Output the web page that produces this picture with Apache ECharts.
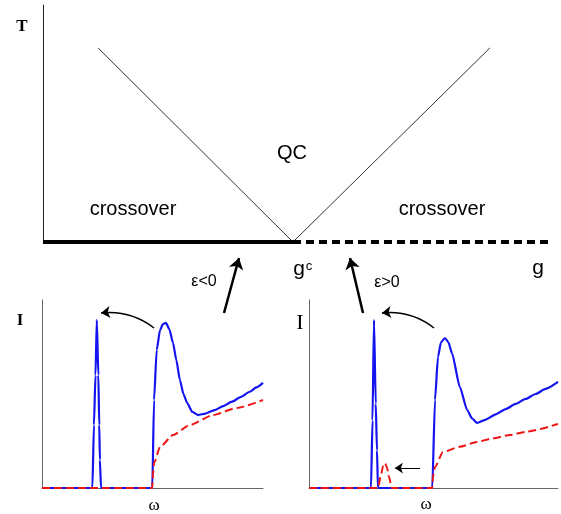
<!DOCTYPE html>
<html>
<head>
<meta charset="utf-8">
<script src="https://cdn.jsdelivr.net/npm/echarts@6/dist/echarts.min.js"></script>
<style>
html,body{margin:0;padding:0;background:#fff;}
#main{width:561px;height:514px;}
</style>
</head>
<body>
<div id="main"></div>
<script>
// 上图: T-g 相图
var gc = 0.495;
var leftBoundary = [[0.109, 0.819], [gc, 0]];
var rightBoundary = [[gc, 0], [0.885, 0.819]];
var orderedLine = [[0, 0], [gc, 0]];     // 实线 (g<gc)
var disorderedLine = [[gc, 0], [1, 0]];  // 虚线 (g>gc)

// 下左图: ε<0 的谱 I(ω)
var blueLeft = [[0, 0], [2.28, 0], [2.35, 0.335], [2.42, 0.6], [2.48, 0.894], [2.55, 0.6], [2.59, 0.335], [2.62, 0.149], [2.67, 0],
  [4.99, 0], [5.07, 0.468], [5.19, 0.734], [5.34, 0.84], [5.47, 0.872], [5.61, 0.878], [5.76, 0.845], [5.93, 0.771], [6.08, 0.68],
  [6.24, 0.574], [6.4, 0.5], [6.57, 0.452], [6.8, 0.405], [7.06, 0.388], [7.4, 0.396], [7.8, 0.414], [8.2, 0.436], [8.6, 0.459],
  [9.0, 0.485], [9.4, 0.512], [9.7, 0.535], [10, 0.559]];
var redLeft = [[0, 0], [4.99, 0], [5.02, 0.07], [5.07, 0.133], [5.34, 0.218], [5.93, 0.282], [6.70, 0.335], [7.74, 0.388], [8.82, 0.426], [10, 0.468]];
// 弯箭头: 宽峰 -> 窄峰
var shiftLeft = [[5.07, 0.851], [2.67, 0.931]];

// 下右图: ε>0 的谱 I(ω)
var blueRight = [[0, 0], [2.49, 0], [2.55, 0.36], [2.61, 0.894], [2.68, 0.45], [2.73, 0.2], [2.77, 0],
  [4.95, 0], [5.06, 0.468], [5.18, 0.697], [5.3, 0.775], [5.46, 0.798], [5.6, 0.775], [5.74, 0.718], [6.06, 0.537], [6.35, 0.415],
  [6.55, 0.37], [6.75, 0.346], [7.1, 0.364], [7.5, 0.392], [7.9, 0.42], [8.3, 0.447], [8.7, 0.474], [9.1, 0.5], [9.5, 0.527], [10, 0.564]];
var redRight = [[0, 0], [2.77, 0], [2.89, 0.069], [2.97, 0.115], [3.05, 0.133], [3.13, 0.11], [3.21, 0.06], [3.33, 0],
  [4.95, 0], [4.98, 0.06], [5.06, 0.112], [5.38, 0.191], [6.06, 0.22], [6.75, 0.245], [7.39, 0.264], [8.07, 0.282], [8.76, 0.3], [10, 0.340]];
var shiftRight = [[5.02, 0.851], [2.93, 0.931]];
var shiftRed = [[4.46, 0.106], [3.45, 0.106]];

var BLUE = '#1414f0';
var RED = '#ee1515';
var SANS = '"Liberation Sans", Arial, sans-serif';
var SERIF = '"Liberation Serif", "Times New Roman", serif';

function hiddenAxis(idx, max, lineColor) {
  return {
    type: 'value', gridIndex: idx, min: 0, max: max,
    axisLine: {show: !!lineColor, lineStyle: {color: lineColor || '#000', width: 1}},
    axisTick: {show: false}, axisLabel: {show: false}, splitLine: {show: false}
  };
}

function txt(text, x, y, font) {
  return {
    type: 'text', x: x, y: y, silent: true,
    style: {text: text, font: font, fill: '#000', align: 'center', verticalAlign: 'middle'}
  };
}

function arrow(idx, coords, width, size, curveness) {
  return {
    type: 'lines', coordinateSystem: 'cartesian2d', xAxisIndex: idx, yAxisIndex: idx,
    clip: false, silent: true, symbol: ['none', 'arrow'], symbolSize: size,
    lineStyle: {color: '#000', width: width, curveness: curveness, opacity: 1},
    data: [{coords: coords}]
  };
}

var chart = echarts.init(document.getElementById('main'));
var option = {
  animation: false,
  grid: [
    {left: 43, right: 13, top: 5, bottom: 272},
    {left: 42, right: 298, top: 300, bottom: 26},
    {left: 309, right: 3, top: 300, bottom: 26}
  ],
  xAxis: [
    hiddenAxis(0, 1, null),
    hiddenAxis(1, 10, '#666'),
    hiddenAxis(2, 10, '#666')
  ],
  yAxis: [
    hiddenAxis(0, 1, '#222'),
    hiddenAxis(1, 1, '#666'),
    hiddenAxis(2, 1, '#666')
  ],
  series: [
    {type: 'line', xAxisIndex: 0, yAxisIndex: 0, data: leftBoundary, symbol: 'none', lineStyle: {color: '#333', width: 1}},
    {type: 'line', xAxisIndex: 0, yAxisIndex: 0, data: rightBoundary, symbol: 'none', lineStyle: {color: '#333', width: 1}},
    {type: 'line', xAxisIndex: 0, yAxisIndex: 0, data: orderedLine, symbol: 'none', clip: false, lineStyle: {color: '#000', width: 4}},
    {
      type: 'line', xAxisIndex: 0, yAxisIndex: 0, data: disorderedLine, symbol: 'none', clip: false,
      lineStyle: {color: '#000', width: 4, type: [8, 5]},
      markLine: {
        silent: true, symbol: ['none', 'arrow'], symbolSize: 11,
        label: {show: false},
        lineStyle: {color: '#000', width: 2.5, type: 'solid'},
        data: [
          [{x: 224, y: 313}, {x: 239, y: 258}],
          [{x: 363, y: 313}, {x: 350, y: 258}]
        ]
      }
    },
    {type: 'line', xAxisIndex: 1, yAxisIndex: 1, data: blueLeft, symbol: 'none', smooth: 0.2, smoothMonotone: 'x', clip: false, lineStyle: {color: BLUE, width: 2.2}},
    {type: 'line', xAxisIndex: 1, yAxisIndex: 1, data: redLeft, symbol: 'none', smooth: 0.2, smoothMonotone: 'x', clip: false, lineStyle: {color: RED, width: 2, type: [8, 4]}},
    {type: 'line', xAxisIndex: 2, yAxisIndex: 2, data: blueRight, symbol: 'none', smooth: 0.2, smoothMonotone: 'x', clip: false, lineStyle: {color: BLUE, width: 2.2}},
    {type: 'line', xAxisIndex: 2, yAxisIndex: 2, data: redRight, symbol: 'none', smooth: 0.2, smoothMonotone: 'x', clip: false, lineStyle: {color: RED, width: 2, type: [8, 4]}},
    arrow(1, shiftLeft, 1.5, 9, -0.2),
    arrow(2, shiftRight, 1.5, 9, -0.2),
    arrow(2, shiftRed, 1, 8, 0)
  ],
  graphic: [
    txt('T', 22, 27, 'bold 17px ' + SERIF),
    txt('QC', 292, 153, '20px ' + SANS),
    txt('crossover', 133, 209, '20px ' + SANS),
    txt('crossover', 442, 209, '20px ' + SANS),
    txt('g', 299, 269, '21px ' + SANS),
    txt('c', 309, 266, '13px ' + SANS),
    txt('g', 538, 268, '21px ' + SANS),
    txt('ε<0', 204, 282, '16px ' + SANS),
    txt('ε>0', 387, 283, '16px ' + SANS),
    txt('I', 20, 321, 'bold 17px ' + SERIF),
    txt('I', 300, 323, '22px ' + SERIF),
    txt('ω', 154, 506, '17px ' + SERIF),
    txt('ω', 426, 505, '17px ' + SERIF)
  ]
};
chart.setOption(option);
</script>
</body>
</html>
